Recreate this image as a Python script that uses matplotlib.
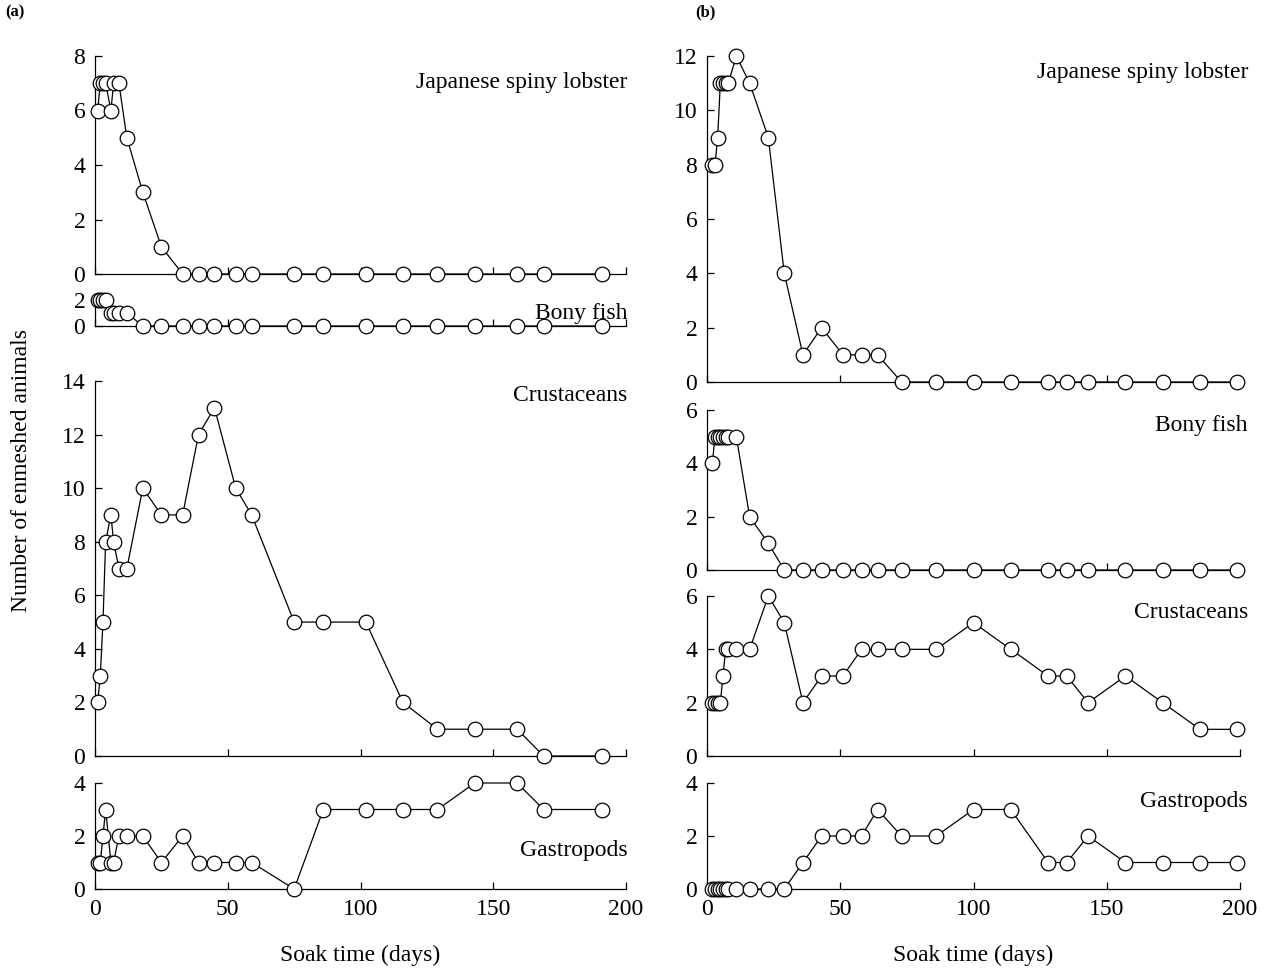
import matplotlib
matplotlib.use("Agg")
import matplotlib.pyplot as plt

plt.rcParams["font.family"] = ["Liberation Serif", "DejaVu Serif"]

# ---- data ----
days_a = [1, 2, 3, 4, 6, 7, 9, 12, 18, 25, 33, 39, 45, 53, 59, 75, 86, 102,
          116, 129, 143, 159, 169, 191]
lobster_a = [6, 7, 7, 7, 6, 7, 7, 5, 3, 1] + [0] * 14
bony_a = [2, 2, 2, 2, 1, 1, 1, 1] + [0] * 16
crust_a = [2, 3, 5, 8, 9, 8, 7, 7, 10, 9, 9, 12, 13, 10, 9, 5, 5, 5, 2, 1, 1, 1, 0, 0]
gastro_a = [1, 1, 2, 3, 1, 1, 2, 2, 2, 1, 2, 1, 1, 1, 1, 0, 3, 3, 3, 3, 4, 4, 3, 3]

days_b = [2, 3, 4, 5, 6, 7, 8, 11, 16, 23, 29, 36, 43, 51, 58, 64, 73, 86, 100,
          114, 128, 135, 143, 157, 171, 185, 199]
lobster_b = [8, 8, 9, 11, 11, 11, 11, 12, 11, 9, 4, 1, 2, 1, 1, 1] + [0] * 11
bony_b = [4, 5, 5, 5, 5, 5, 5, 5, 2, 1] + [0] * 17
crust_b = [2, 2, 2, 2, 3, 4, 4, 4, 4, 6, 5, 2, 3, 3, 4, 4, 4, 4, 5, 4, 3, 3, 2, 3, 2, 1, 1]
gastro_b = [0] * 11 + [1, 2, 2, 2, 3, 2, 2, 3, 3, 1, 1, 2, 1, 1, 1, 1]

species = ["Japanese spiny lobster", "Bony fish", "Crustaceans", "Gastropods"]
xticks = [0, 50, 100, 150, 200]

W, H = 1267, 968
FS = 17
fig = plt.figure(figsize=(W / 100, H / 100), dpi=100)


def px_axes(x0, x1, ytop, ybot):
    return fig.add_axes([x0 / W, 1 - ybot / H, (x1 - x0) / W, (ybot - ytop) / H])


def panel(ax, days, vals, ymax, ystep, label, label_y, label_x=1.0, bottom=False):
    ax.plot(days, vals, "-", color="black", lw=0.9, zorder=2, clip_on=False)
    ax.plot(days, vals, "o", ms=10.5, mfc="white", mec="black", mew=0.9,
            zorder=3, clip_on=False)
    ax.set_xlim(0, 200)
    ax.set_ylim(0, ymax)
    ax.set_yticks(range(0, ymax + 1, ystep))
    ax.set_xticks(xticks)
    for s in ("top", "right"):
        ax.spines[s].set_visible(False)
    for s in ("left", "bottom"):
        ax.spines[s].set_linewidth(0.9)
    ax.tick_params(direction="in", length=5, width=0.9, labelsize=FS, pad=7)
    if not bottom:
        ax.tick_params(axis="x", labelbottom=False)
    ax.text(label_x, label_y, label, transform=ax.transAxes, ha="right",
            va="center", fontsize=FS)


# panel (a)
xa0, xa1 = 95, 626
ax = px_axes(xa0, xa1, 56, 274)
panel(ax, days_a, lobster_a, 8, 2, species[0], 0.88, 1.003)
ax = px_axes(xa0, xa1, 300, 326)
panel(ax, days_a, bony_a, 2, 2, species[1], 0.5, 1.003)
ax = px_axes(xa0, xa1, 381, 756)
panel(ax, days_a, crust_a, 14, 2, species[2], 0.96, 1.003)
ax = px_axes(xa0, xa1, 783, 889)
panel(ax, days_a, gastro_a, 4, 2, species[3], 0.36, 1.003, bottom=True)

# panel (b)
xb0, xb1 = 707, 1240
ax = px_axes(xb0, xb1, 56, 382)
panel(ax, days_b, lobster_b, 12, 2, species[0], 0.95, 1.015)
ax = px_axes(xb0, xb1, 410, 570)
panel(ax, days_b, bony_b, 6, 2, species[1], 0.9, 1.015)
ax = px_axes(xb0, xb1, 596, 756)
panel(ax, days_b, crust_b, 6, 2, species[2], 0.9, 1.015)
ax = px_axes(xb0, xb1, 783, 889)
panel(ax, days_b, gastro_b, 4, 2, species[3], 0.83, 1.015, bottom=True)

fig.text((xa0 + xa1) / 2 / W, 1 - 955 / H, "Soak time (days)", ha="center",
         va="center", fontsize=FS)
fig.text((xb0 + xb1) / 2 / W, 1 - 955 / H, "Soak time (days)", ha="center",
         va="center", fontsize=FS)
fig.text(22 / W, 1 - 470 / H, "Number of enmeshed animals", rotation=90,
         ha="center", va="center", fontsize=FS)
fig.text(5 / W, 1 - 12 / H, "(a)", fontsize=12, fontweight="bold", va="center")
fig.text(695 / W, 1 - 12 / H, "(b)", fontsize=12, fontweight="bold", va="center")

fig.savefig("out.png", dpi=100)
